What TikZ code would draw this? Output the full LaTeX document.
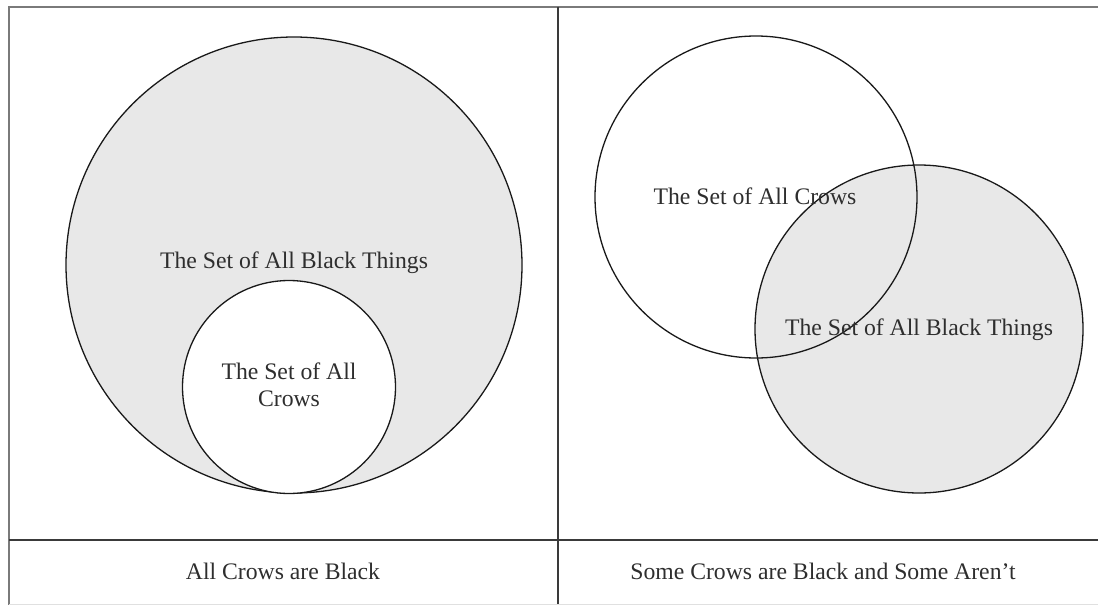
\documentclass[tikz,border=0pt]{standalone}
\usepackage{fontspec}
\setmainfont{Liberation Serif}
\usetikzlibrary{positioning}
\definecolor{setFill}{HTML}{E8E8E8}
\definecolor{frameGray}{HTML}{7A7A7A}
\definecolor{frameDark}{HTML}{3A3A3A}
\definecolor{labelInk}{HTML}{2E2E2E}

\begin{document}
\begin{tikzpicture}[x=1pt, y=-1pt,
    setcircle/.style={circle, draw=black!90, line width=1.3pt, inner sep=0pt},
    setlabel/.style={font=\fontsize{23.7}{27}\selectfont, text=labelInk, inner sep=0pt}]
  \useasboundingbox (0,0) rectangle (1098,605);

  % Frame
  \draw[frameGray, line width=2] (9,605) -- (9,6.5) -- (1098,6.5);
  \draw[frameDark, line width=2] (558,6.5) -- (558,605);
  \draw[frameDark, line width=2] (9,539.5) -- (1098,539.5);
  \draw[black!12, line width=1] (9,604) -- (1098,604);

  % All crows are black
  \node[setcircle, fill=setFill, minimum size=456] (blackL) at (294,265) {};
  \node[setcircle, fill=white, minimum size=213] (crowsL) at (289,387) {};
  \node[setlabel, anchor=base] (blackLabelL) at (294,268) {The Set of All Black Things};
  \node[setlabel, align=center] (crowsLabelL) at (289,385) {The Set of All\\Crows};
  \node[setlabel, anchor=base] (captionL) at (283,579) {All Crows are Black};

  % Some crows are black and some aren't
  \node[setcircle, fill=setFill, minimum size=328] (blackR) at (919,329) {};
  \node[setcircle, minimum size=322] (crowsR) at (756,197) {};
  \node[setlabel, anchor=base] (crowsLabelR) at (755,204) {The Set of All Crows};
  \node[setlabel, anchor=base] (blackLabelR) at (919,335) {The Set of All Black Things};
  \node[setlabel, anchor=base] (captionR) at (823,579) {Some Crows are Black and Some Aren’t};
\end{tikzpicture}
\end{document}
